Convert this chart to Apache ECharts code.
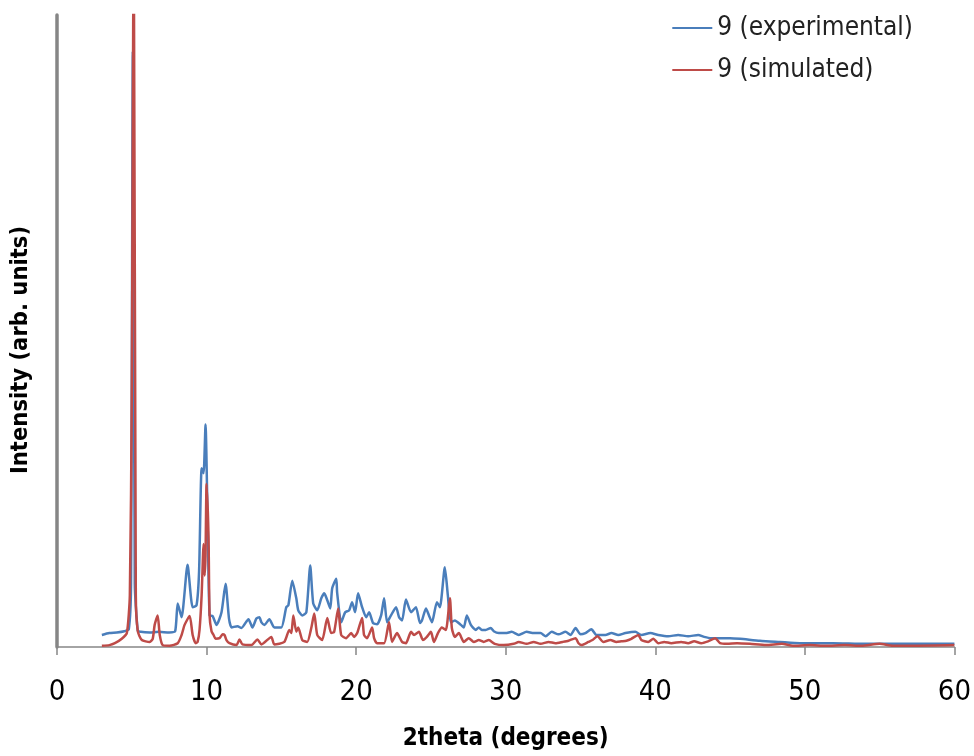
<!DOCTYPE html>
<html>
<head>
<meta charset="utf-8">
<script src="https://cdn.jsdelivr.net/npm/echarts@6/dist/echarts.min.js"></script>
<style>
html,body{margin:0;padding:0;background:#fff;}
#chart{width:974px;height:756px;}
</style>
</head>
<body>
<div id="chart"></div>
<script>
const seriesNames = ['9 (experimental)', '9 (simulated)'];
const xTicks = [0, 10, 20, 30, 40, 50, 60];

const experimental = [
[3.0,1.9],[3.5,2.2],[4.0,2.3],[4.5,2.5],[4.8,2.8],[4.95,10],[5.07,94.2],[5.2,10],[5.4,2.6],[5.6,2.4],[6.2,2.3],[6.8,2.4],[7.5,2.3],[7.9,2.5],[8.07,6.9],[8.33,4.7],[8.73,13.0],[9.07,6.3],[9.33,6.6],[9.5,12],[9.67,28.3],[9.8,27.5],[9.93,35.2],[10.07,20],[10.2,5.0],[10.4,4.9],[10.67,3.5],[11.0,5.5],[11.27,10.0],[11.5,4.5],[11.67,3.1],[12.07,3.3],[12.33,3.0],[12.8,4.4],[13.07,3.1],[13.33,4.5],[13.53,4.7],[13.67,3.9],[13.87,3.5],[14.2,4.4],[14.53,3.1],[15.0,3.1],[15.33,6.3],[15.47,6.6],[15.73,10.5],[16.0,7.7],[16.13,5.8],[16.4,5.0],[16.67,5.5],[16.93,12.9],[17.13,6.9],[17.4,5.8],[17.67,7.7],[17.87,8.5],[18.07,7.4],[18.27,6.1],[18.4,9.3],[18.67,10.8],[18.73,8.6],[19.0,3.9],[19.27,5.5],[19.53,5.8],[19.73,7.1],[19.93,5.5],[20.13,8.5],[20.4,6.3],[20.67,4.7],[20.87,5.5],[21.13,3.8],[21.4,3.6],[21.67,5.0],[21.87,7.7],[22.07,3.9],[22.33,5.0],[22.67,6.3],[22.87,4.7],[23.07,4.2],[23.33,7.5],[23.67,5.5],[24.0,6.3],[24.27,3.8],[24.4,4.2],[24.67,6.1],[24.87,5.0],[25.07,3.9],[25.4,7.1],[25.6,6.3],[25.93,12.6],[26.13,8.2],[26.33,3.9],[26.6,4.2],[27.0,3.5],[27.2,3.1],[27.4,5.0],[27.67,3.5],[28.0,2.7],[28.2,3.1],[28.4,2.7],[28.67,2.7],[29.0,3.0],[29.2,2.5],[29.53,2.2],[30.0,2.2],[30.4,2.4],[30.87,1.9],[31.4,2.4],[31.87,2.2],[32.33,2.2],[32.67,1.7],[33.07,2.4],[33.53,2.0],[34.0,2.4],[34.33,1.9],[34.67,3.0],[35.0,2.0],[35.33,2.2],[35.73,2.8],[36.07,1.9],[36.67,1.9],[37.07,2.2],[37.53,1.9],[38.0,2.2],[38.67,2.4],[39.07,1.9],[39.67,2.2],[40.2,1.9],[40.87,1.7],[41.53,1.9],[42.2,1.7],[42.87,1.9],[43.27,1.6],[43.73,1.4],[44.33,1.4],[45.0,1.4],[45.67,1.3],[47.0,1.0],[48.33,0.8],[49.67,0.6],[51.87,0.6],[54.0,0.5],[56.2,0.5],[60.0,0.5]
];

const simulated = [
[3.0,0.2],[3.5,0.3],[3.87,0.6],[4.33,1.3],[4.67,2.2],[4.87,8.2],[5.0,40],[5.13,115],[5.27,8.2],[5.4,2.5],[5.67,1.1],[6.2,0.8],[6.4,1.3],[6.53,3.5],[6.73,5.0],[6.87,1.9],[7.07,0.3],[7.53,0.2],[8.07,0.6],[8.33,1.9],[8.53,3.5],[8.87,4.9],[9.07,1.9],[9.27,0.6],[9.4,0.8],[9.53,2.7],[9.67,8.2],[9.8,16.3],[9.87,11.3],[9.93,14.4],[10.0,25.8],[10.13,17.6],[10.2,5.0],[10.33,2.5],[10.47,1.9],[10.6,1.3],[10.87,1.4],[11.07,2.0],[11.2,1.9],[11.33,1.1],[11.53,0.6],[12.0,0.3],[12.2,1.2],[12.4,0.4],[13.0,0.3],[13.4,1.2],[13.67,0.4],[14.33,1.6],[14.53,0.4],[15.2,0.8],[15.53,2.7],[15.67,2.2],[15.8,5.0],[16.0,2.4],[16.13,3.1],[16.4,1.1],[16.73,0.8],[17.0,3.0],[17.2,5.3],[17.4,1.9],[17.73,1.1],[18.07,4.6],[18.33,2.2],[18.53,2.4],[18.8,6.1],[19.0,1.9],[19.33,1.4],[19.67,2.2],[19.87,1.6],[20.07,2.2],[20.4,4.6],[20.53,1.9],[20.73,1.4],[21.07,3.1],[21.2,1.4],[21.4,0.6],[21.87,0.6],[22.2,3.9],[22.4,0.8],[22.73,2.2],[23.07,0.8],[23.33,0.6],[23.67,2.4],[23.87,1.9],[24.2,2.4],[24.47,1.1],[24.73,1.6],[25.0,2.4],[25.2,0.8],[25.47,2.2],[25.73,3.1],[26.0,2.7],[26.27,7.7],[26.4,3.0],[26.6,1.6],[26.87,2.2],[27.2,0.8],[27.53,1.4],[27.87,0.8],[28.2,1.1],[28.53,0.8],[28.87,1.1],[29.27,0.5],[29.87,0.3],[30.53,0.5],[30.87,0.8],[31.4,0.5],[31.87,0.8],[32.33,0.5],[32.87,0.8],[33.33,0.6],[33.8,0.8],[34.2,1.0],[34.67,1.4],[34.87,0.6],[35.07,0.3],[35.53,0.8],[35.8,1.1],[36.13,1.7],[36.53,0.8],[37.0,1.1],[37.4,0.8],[37.73,0.9],[38.07,1.0],[38.4,1.3],[38.87,1.9],[39.07,1.1],[39.53,0.8],[39.87,1.3],[40.2,0.6],[40.6,0.8],[41.07,0.6],[41.73,0.8],[42.2,0.6],[42.6,0.9],[43.07,0.6],[43.53,0.9],[44.0,1.4],[44.33,0.6],[44.8,0.5],[45.47,0.6],[46.33,0.5],[47.4,0.3],[48.47,0.5],[49.2,0.2],[50.33,0.3],[51.4,0.2],[52.67,0.3],[53.8,0.2],[55.0,0.5],[55.87,0.2],[57.53,0.2],[60.0,0.3]
];

const FONT = '"Liberation Sans Narrow", "DejaVu Sans Condensed", "Liberation Sans", sans-serif';
const chart = echarts.init(document.getElementById('chart'), null, {renderer: 'canvas'});
chart.setOption({
  animation: false,
  backgroundColor: '#ffffff',
  grid: {left: 57, right: 17, top: 15, bottom: 104, containLabel: false},
  legend: {
    orient: 'vertical',
    right: 56,
    top: 10,
    itemGap: 16,
    itemWidth: 40,
    itemHeight: 2,
    icon: 'rect',
    textStyle: {fontFamily: FONT, fontSize: 26, color: '#222'},
    data: seriesNames
  },
  xAxis: {
    type: 'value',
    min: xTicks[0],
    max: xTicks[xTicks.length - 1],
    interval: 10,
    name: '2theta (degrees)',
    nameLocation: 'middle',
    nameGap: 80,
    nameTextStyle: {fontFamily: FONT, fontSize: 24, fontWeight: 'bold', color: '#000'},
    axisLine: {lineStyle: {color: '#868686', width: 1.5}},
    axisTick: {show: true, inside: false, length: 8, lineStyle: {color: '#868686', width: 1.5}},
    axisLabel: {fontFamily: FONT, fontSize: 29, color: '#000', margin: 31},
    splitLine: {show: false}
  },
  yAxis: {
    type: 'value',
    min: 0,
    max: 100,
    name: 'Intensity (arb. units)',
    nameLocation: 'middle',
    nameRotate: 90,
    nameGap: 24,
    nameTextStyle: {fontFamily: FONT, fontSize: 23.5, fontWeight: 'bold', color: '#000', padding: [0, 38, 0, 0]},
    axisLine: {show: true, lineStyle: {color: '#868686', width: 3.5}},
    axisTick: {show: false},
    axisLabel: {show: false},
    splitLine: {show: false}
  },
  series: [
    {
      name: seriesNames[0], type: 'line', data: experimental, showSymbol: false,
      smooth: 0.2, clip: true,
      lineStyle: {color: '#4A7EBB', width: 2.5}, itemStyle: {color: '#4A7EBB'}, z: 2
    },
    {
      name: seriesNames[1], type: 'line', data: simulated, showSymbol: false,
      smooth: 0.2, clip: true,
      lineStyle: {color: '#BE4B48', width: 2.5}, itemStyle: {color: '#BE4B48'}, z: 3
    }
  ]
});
</script>
</body>
</html>
